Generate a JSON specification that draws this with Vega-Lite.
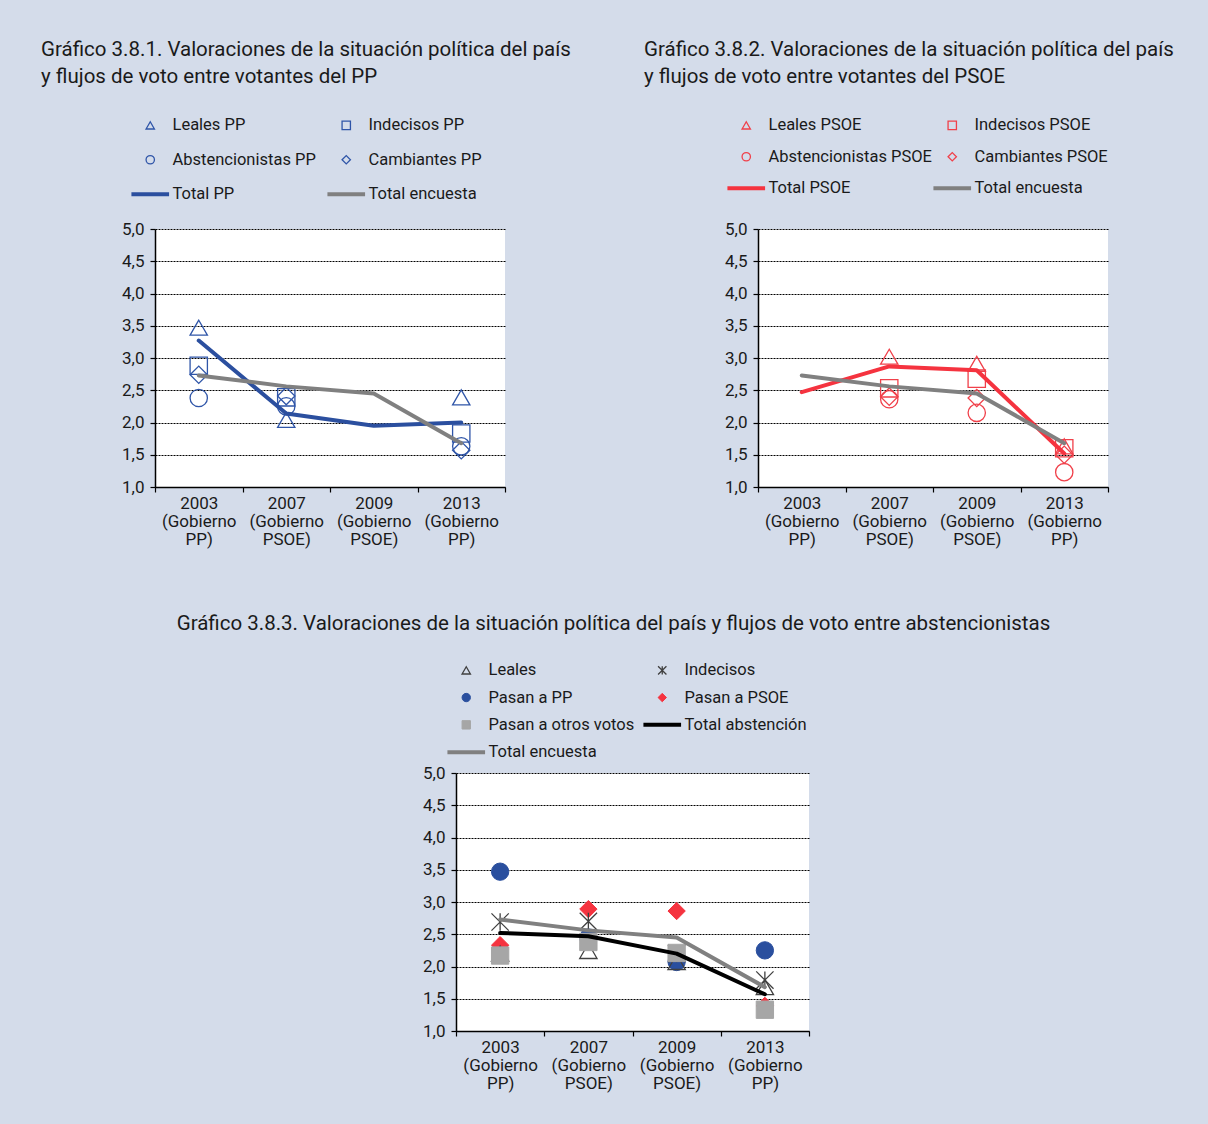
{
  "$schema": "https://vega.github.io/schema/vega-lite/v6.json",
  "background": "#d4dcea",
  "padding": {"left": 41, "top": 39, "right": 34, "bottom": 34},
  "spacing": 66,
  "resolve": {"scale": {"x": "independent", "y": "independent", "stroke": "independent", "fill": "independent", "shape": "independent", "strokeWidth": "independent"}, "legend": {"stroke": "independent", "fill": "independent", "shape": "independent", "strokeWidth": "independent"}},
  "datasets": {
    "pp": [
      {"year": "2003", "serie": "Leales PP", "value": 3.47},
      {"year": "2007", "serie": "Leales PP", "value": 2.04},
      {"year": "2013", "serie": "Leales PP", "value": 2.39},
      {"year": "2003", "serie": "Indecisos PP", "value": 2.88},
      {"year": "2007", "serie": "Indecisos PP", "value": 2.39},
      {"year": "2013", "serie": "Indecisos PP", "value": 1.83},
      {"year": "2003", "serie": "Abstencionistas PP", "value": 2.38},
      {"year": "2007", "serie": "Abstencionistas PP", "value": 2.25},
      {"year": "2013", "serie": "Abstencionistas PP", "value": 1.63},
      {"year": "2003", "serie": "Cambiantes PP", "value": 2.74},
      {"year": "2007", "serie": "Cambiantes PP", "value": 2.41},
      {"year": "2013", "serie": "Cambiantes PP", "value": 1.57},
      {"year": "2003", "serie": "Total PP", "value": 3.27},
      {"year": "2007", "serie": "Total PP", "value": 2.14},
      {"year": "2009", "serie": "Total PP", "value": 1.95},
      {"year": "2013", "serie": "Total PP", "value": 2.0},
      {"year": "2003", "serie": "Total encuesta", "value": 2.73},
      {"year": "2007", "serie": "Total encuesta", "value": 2.56},
      {"year": "2009", "serie": "Total encuesta", "value": 2.45},
      {"year": "2013", "serie": "Total encuesta", "value": 1.68}
    ],
    "psoe": [
      {"year": "2007", "serie": "Leales PSOE", "value": 3.02},
      {"year": "2009", "serie": "Leales PSOE", "value": 2.91},
      {"year": "2013", "serie": "Leales PSOE", "value": 1.63},
      {"year": "2007", "serie": "Indecisos PSOE", "value": 2.53},
      {"year": "2009", "serie": "Indecisos PSOE", "value": 2.68},
      {"year": "2013", "serie": "Indecisos PSOE", "value": 1.6},
      {"year": "2007", "serie": "Abstencionistas PSOE", "value": 2.36},
      {"year": "2009", "serie": "Abstencionistas PSOE", "value": 2.15},
      {"year": "2013", "serie": "Abstencionistas PSOE", "value": 1.23},
      {"year": "2007", "serie": "Cambiantes PSOE", "value": 2.4},
      {"year": "2009", "serie": "Cambiantes PSOE", "value": 2.38},
      {"year": "2013", "serie": "Cambiantes PSOE", "value": 1.5},
      {"year": "2003", "serie": "Total PSOE", "value": 2.47},
      {"year": "2007", "serie": "Total PSOE", "value": 2.87},
      {"year": "2009", "serie": "Total PSOE", "value": 2.81},
      {"year": "2013", "serie": "Total PSOE", "value": 1.52},
      {"year": "2003", "serie": "Total encuesta", "value": 2.73},
      {"year": "2007", "serie": "Total encuesta", "value": 2.56},
      {"year": "2009", "serie": "Total encuesta", "value": 2.45},
      {"year": "2013", "serie": "Total encuesta", "value": 1.68}
    ],
    "abs": [
      {"year": "2003", "serie": "Pasan a PP", "value": 3.47},
      {"year": "2007", "serie": "Pasan a PP", "value": 2.45},
      {"year": "2009", "serie": "Pasan a PP", "value": 2.07},
      {"year": "2013", "serie": "Pasan a PP", "value": 2.25},
      {"year": "2003", "serie": "Pasan a PSOE", "value": 2.33},
      {"year": "2007", "serie": "Pasan a PSOE", "value": 2.89},
      {"year": "2009", "serie": "Pasan a PSOE", "value": 2.86},
      {"year": "2013", "serie": "Pasan a PSOE", "value": 1.39},
      {"year": "2003", "serie": "Leales", "value": 2.2},
      {"year": "2007", "serie": "Leales", "value": 2.24},
      {"year": "2009", "serie": "Leales", "value": 2.07},
      {"year": "2013", "serie": "Leales", "value": 1.68},
      {"year": "2003", "serie": "Indecisos", "value": 2.69},
      {"year": "2007", "serie": "Indecisos", "value": 2.7},
      {"year": "2009", "serie": "Indecisos", "value": 2.2},
      {"year": "2013", "serie": "Indecisos", "value": 1.79},
      {"year": "2003", "serie": "Pasan a otros votos", "value": 2.17},
      {"year": "2007", "serie": "Pasan a otros votos", "value": 2.38},
      {"year": "2009", "serie": "Pasan a otros votos", "value": 2.21},
      {"year": "2013", "serie": "Pasan a otros votos", "value": 1.33},
      {"year": "2003", "serie": "Total abstención", "value": 2.52},
      {"year": "2007", "serie": "Total abstención", "value": 2.47},
      {"year": "2009", "serie": "Total abstención", "value": 2.2},
      {"year": "2013", "serie": "Total abstención", "value": 1.57},
      {"year": "2003", "serie": "Total encuesta", "value": 2.73},
      {"year": "2007", "serie": "Total encuesta", "value": 2.56},
      {"year": "2009", "serie": "Total encuesta", "value": 2.45},
      {"year": "2013", "serie": "Total encuesta", "value": 1.68}
    ]
  },
  "vconcat": [
    {
      "spacing": 73,
      "resolve": {"scale": {"x": "independent", "y": "independent", "stroke": "independent", "fill": "independent", "shape": "independent", "strokeWidth": "independent"}, "legend": {"stroke": "independent", "fill": "independent", "shape": "independent", "strokeWidth": "independent"}},
      "hconcat": [
        {
          "width": 350,
          "height": 258,
          "data": {"name": "pp"},
          "title": {"text": ["Gráfico 3.8.1. Valoraciones de la situación política del país", "y flujos de voto entre votantes del PP"], "dx": -114, "offset": 30},
          "encoding": {
            "x": {"field": "year", "type": "nominal", "scale": {"type": "band", "domain": ["2003", "2007", "2009", "2013"], "paddingInner": 0, "paddingOuter": 0}, "axis": {"title": null, "labelAngle": 0, "tickBand": "extent", "labelExpr": "datum.value == '2003' || datum.value == '2013' ? [datum.value, '(Gobierno', 'PP)'] : (datum.value == '2007' || datum.value == '2009' ? [datum.value, '(Gobierno', 'PSOE)'] : '')"}},
            "y": {"field": "value", "type": "quantitative", "scale": {"domain": [1, 5], "nice": false, "zero": false}, "axis": {"title": null, "grid": true, "values": [1, 1.5, 2, 2.5, 3, 3.5, 4, 4.5, 5], "labelExpr": "replace(format(datum.value, '.1f'), '.', ',')"}},
            "stroke": {"field": "serie", "type": "nominal", "scale": {"domain": ["Leales PP", "Abstencionistas PP", "Total PP", "Indecisos PP", "Cambiantes PP", "Total encuesta"], "range": ["#2f55a8", "#2f55a8", "#2b4f9f", "#2f55a8", "#2f55a8", "#808080"]}, "legend": {"orient": "none", "legendX": -25, "legendY": -112, "columns": 2, "title": null, "columnPadding": 3, "rowPadding": 17.5}},
            "strokeWidth": {"field": "serie", "type": "nominal", "scale": {"type": "ordinal", "domain": ["Leales PP", "Abstencionistas PP", "Total PP", "Indecisos PP", "Cambiantes PP", "Total encuesta"], "range": [1.3, 1.3, 4, 1.3, 1.3, 4]}}
          },
          "layer": [
            {
              "transform": [{"filter": "indexof(datum.serie, 'Total') < 0"}],
              "mark": {"type": "point", "filled": false, "size": 300, "opacity": 1},
              "encoding": {
                "shape": {"field": "serie", "type": "nominal", "scale": {"domain": ["Leales PP", "Abstencionistas PP", "Total PP", "Indecisos PP", "Cambiantes PP", "Total encuesta"], "range": ["triangle-up", "circle", "M-4.5,0L4.5,0", "square", "diamond", "M-4.5,0L4.5,0"]}}
              }
            },
            {
              "transform": [{"filter": "indexof(datum.serie, 'Total') >= 0"}],
              "mark": {"type": "line", "strokeCap": "round", "strokeJoin": "round"}
            }
          ]
        },
        {
          "width": 350,
          "height": 258,
          "data": {"name": "psoe"},
          "title": {"text": ["Gráfico 3.8.2. Valoraciones de la situación política del país", "y flujos de voto entre votantes del PSOE"], "dx": -114, "offset": 30},
          "encoding": {
            "x": {"field": "year", "type": "nominal", "scale": {"type": "band", "domain": ["2003", "2007", "2009", "2013"], "paddingInner": 0, "paddingOuter": 0}, "axis": {"title": null, "labelAngle": 0, "tickBand": "extent", "labelExpr": "datum.value == '2003' || datum.value == '2013' ? [datum.value, '(Gobierno', 'PP)'] : (datum.value == '2007' || datum.value == '2009' ? [datum.value, '(Gobierno', 'PSOE)'] : '')"}},
            "y": {"field": "value", "type": "quantitative", "scale": {"domain": [1, 5], "nice": false, "zero": false}, "axis": {"title": null, "grid": true, "values": [1, 1.5, 2, 2.5, 3, 3.5, 4, 4.5, 5], "labelExpr": "replace(format(datum.value, '.1f'), '.', ',')"}},
            "stroke": {"field": "serie", "type": "nominal", "scale": {"domain": ["Leales PSOE", "Abstencionistas PSOE", "Total PSOE", "Indecisos PSOE", "Cambiantes PSOE", "Total encuesta"], "range": ["#f0404a", "#f0404a", "#f5333f", "#f0404a", "#f0404a", "#808080"]}, "legend": {"orient": "none", "legendX": -32, "legendY": -112, "columns": 2, "title": null, "columnPadding": -20, "rowPadding": 14.5}},
            "strokeWidth": {"field": "serie", "type": "nominal", "scale": {"type": "ordinal", "domain": ["Leales PSOE", "Abstencionistas PSOE", "Total PSOE", "Indecisos PSOE", "Cambiantes PSOE", "Total encuesta"], "range": [1.3, 1.3, 4, 1.3, 1.3, 4]}}
          },
          "layer": [
            {
              "transform": [{"filter": "indexof(datum.serie, 'Total') < 0"}],
              "mark": {"type": "point", "filled": false, "size": 300, "opacity": 1},
              "encoding": {
                "shape": {"field": "serie", "type": "nominal", "scale": {"domain": ["Leales PSOE", "Abstencionistas PSOE", "Total PSOE", "Indecisos PSOE", "Cambiantes PSOE", "Total encuesta"], "range": ["triangle-up", "circle", "M-4.5,0L4.5,0", "square", "diamond", "M-4.5,0L4.5,0"]}}
              }
            },
            {
              "transform": [{"filter": "indexof(datum.serie, 'Total') >= 0"}],
              "mark": {"type": "line", "strokeCap": "round", "strokeJoin": "round"}
            }
          ]
        }
      ]
    },
    {
      "spacing": 20,
      "resolve": {"scale": {"x": "independent", "y": "independent", "stroke": "independent", "fill": "independent", "shape": "independent", "strokeWidth": "independent"}, "legend": {"stroke": "independent", "fill": "independent", "shape": "independent", "strokeWidth": "independent"}},
      "hconcat": [
        {
          "width": 1,
          "height": 1,
          "data": {"values": []},
          "mark": {"type": "point"},
          "view": {"fill": "#d4dcea", "stroke": null}
        },
        {
          "width": 353,
          "height": 258,
          "data": {"name": "abs"},
          "title": {"text": "Gráfico 3.8.3. Valoraciones de la situación política del país y flujos de voto entre abstencionistas", "anchor": "middle", "dx": -19, "offset": 28},
          "encoding": {
            "x": {"field": "year", "type": "nominal", "scale": {"type": "band", "domain": ["2003", "2007", "2009", "2013"], "paddingInner": 0, "paddingOuter": 0}, "axis": {"title": null, "labelAngle": 0, "tickBand": "extent", "labelExpr": "datum.value == '2003' || datum.value == '2013' ? [datum.value, '(Gobierno', 'PP)'] : (datum.value == '2007' || datum.value == '2009' ? [datum.value, '(Gobierno', 'PSOE)'] : '')"}},
            "y": {"field": "value", "type": "quantitative", "scale": {"domain": [1, 5], "nice": false, "zero": false}, "axis": {"title": null, "grid": true, "values": [1, 1.5, 2, 2.5, 3, 3.5, 4, 4.5, 5], "labelExpr": "replace(format(datum.value, '.1f'), '.', ',')"}},
            "stroke": {"field": "serie", "type": "nominal", "scale": {"domain": ["Leales", "Pasan a PP", "Pasan a otros votos", "Total encuesta", "Indecisos", "Pasan a PSOE", "Total abstención"], "range": ["#404040", "#2a4f9e", "#a6a6a6", "#808080", "#404040", "#f5333f", "#000000"]}, "legend": {"orient": "none", "legendX": -10, "legendY": -111, "columns": 2, "title": null, "columnPadding": 0, "rowPadding": 10.3}},
            "strokeWidth": {"field": "serie", "type": "nominal", "scale": {"type": "ordinal", "domain": ["Leales", "Pasan a PP", "Pasan a otros votos", "Total encuesta", "Indecisos", "Pasan a PSOE", "Total abstención"], "range": [1.3, 1, 1, 4, 1.3, 1, 4]}}
          },
          "layer": [
            {
              "transform": [{"filter": "indexof(datum.serie, 'Total') < 0"}],
              "mark": {"type": "point", "filled": true, "size": 300, "opacity": 1},
              "encoding": {
                "fill": {"field": "serie", "type": "nominal", "scale": {"domain": ["Leales", "Pasan a PP", "Pasan a otros votos", "Total encuesta", "Indecisos", "Pasan a PSOE", "Total abstención"], "range": ["transparent", "#2a4f9e", "#a6a6a6", "transparent", "transparent", "#f5333f", "transparent"]}},
                "shape": {"field": "serie", "type": "nominal", "scale": {"domain": ["Leales", "Pasan a PP", "Pasan a otros votos", "Total encuesta", "Indecisos", "Pasan a PSOE", "Total abstención"], "range": ["triangle-up", "circle", "square", "M-4.5,0L4.5,0", "M-1,-1L1,1M-1,1L1,-1M0,-1L0,1", "diamond", "M-4.5,0L4.5,0"]}}
              }
            },
            {
              "transform": [{"filter": "indexof(datum.serie, 'Total') >= 0"}],
              "mark": {"type": "line", "strokeCap": "round", "strokeJoin": "round"}
            }
          ]
        }
      ]
    }
  ],
  "config": {
    "font": "Roboto, sans-serif",
    "view": {"fill": "white", "stroke": null},
    "axis": {"domainColor": "#000000", "domainWidth": 1.5, "tickColor": "#000000", "tickWidth": 1.2, "tickSize": 5, "labelFont": "Roboto, sans-serif", "labelFontSize": 17, "labelColor": "#1a1a1a"},
    "axisX": {"grid": false, "labelPadding": 3, "labelLineHeight": 18},
    "axisY": {"gridColor": "#000000", "gridDash": [2, 1], "gridWidth": 1, "labelPadding": 6},
    "title": {"font": "Roboto, sans-serif", "fontSize": 20.5, "fontWeight": "normal", "color": "#1a1a1a", "anchor": "start", "frame": "group", "lineHeight": 27},
    "legend": {"padding": 0, "symbolSize": 70, "symbolOffset": 12, "labelOffset": 14, "labelFont": "Roboto, sans-serif", "labelFontSize": 16.5, "labelColor": "#1a1a1a", "labelLimit": 400}
  }
}
